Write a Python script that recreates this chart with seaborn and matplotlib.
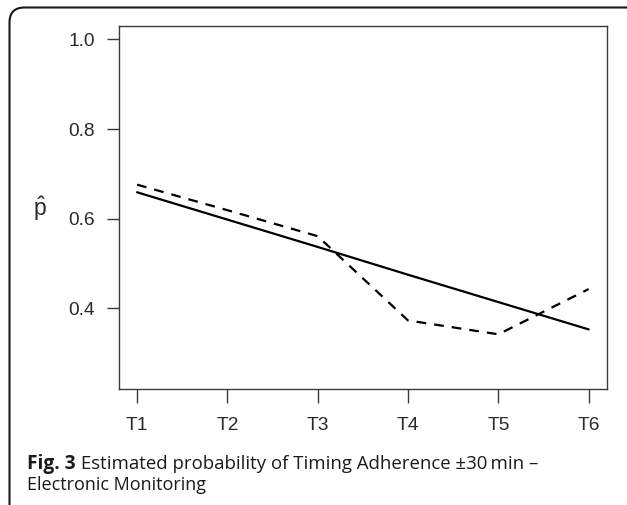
import numpy as np
import pandas as pd
import matplotlib
matplotlib.use("Agg")
import matplotlib.pyplot as plt
from matplotlib.patches import FancyBboxPatch
from matplotlib.transforms import IdentityTransform
import seaborn as sns

# ---- data ----
time_labels = ["T1", "T2", "T3", "T4", "T5", "T6"]
fitted = [0.659, 0.598, 0.537, 0.475, 0.414, 0.353]      # solid line
observed = [0.676, 0.619, 0.561, 0.373, 0.342, 0.443]    # dashed line
y_ticks = [0.4, 0.6, 0.8, 1.0]
caption_bold = "Fig. 3"
caption_rest = " Estimated probability of Timing Adherence \u00b130\u2009min \u2013"
caption_line2 = "Electronic Monitoring"

sns.set_style("white")
plt.rcParams["font.family"] = ["Liberation Sans", "DejaVu Sans"]
plt.rcParams["mathtext.fontset"] = "custom"
plt.rcParams["mathtext.rm"] = "Liberation Sans"

W, H = 627, 505
fig = plt.figure(figsize=(W / 100, H / 100), dpi=100)
fig.patch.set_facecolor("white")

# outer rounded frame (pixel coordinates)
frame = FancyBboxPatch((9.5, -30), 660, 505 - 7.5 + 30,
                       boxstyle="round,pad=0,rounding_size=15",
                       transform=IdentityTransform(), fill=False,
                       edgecolor="#1a1a1a", linewidth=1.5, clip_on=False)
fig.add_artist(frame)

ax = fig.add_axes([119 / W, 1 - 389 / H, (606.7 - 119) / W, (389 - 26) / H])

x = np.arange(1, len(time_labels) + 1)
df = pd.DataFrame({"x": x, "fitted": fitted, "observed": observed})

lw = 1.6
sns.lineplot(data=df, x="x", y="fitted", ax=ax, color="black", linewidth=lw)
sns.lineplot(data=df, x="x", y="observed", ax=ax, color="black", linewidth=lw,
             linestyle=(0, (7.0 / lw, 5.8 / lw)))

ax.set_xlim(0.8, 6.2)
ax.set_ylim(0.22, 1.03)
ax.set_xticks(x)
ax.set_xticklabels(time_labels)
ax.set_yticks(y_ticks)
ax.set_yticklabels([f"{v:.1f}" for v in y_ticks])
ax.set_xlabel("")
ax.set_ylabel("")

for s in ax.spines.values():
    s.set_visible(True)
    s.set_color("#3a3a3a")
    s.set_linewidth(1.0)

ax.tick_params(axis="x", direction="out", length=10, width=1.0, color="#3a3a3a",
               pad=10, labelsize=13.8, labelcolor="#2a2a2a", bottom=True)
ax.tick_params(axis="y", direction="out", length=8.6, width=1.0, color="#3a3a3a",
               pad=9, labelsize=13.8, labelcolor="#2a2a2a", left=True)

# y label p-hat (upright)
fig.text(40 / W, 1 - 209 / H, r"$\hat{\mathrm{p}}$", fontsize=16.5, ha="center",
         va="center", color="#2a2a2a")

# caption
cap_font = ["Open Sans", "DejaVu Sans"]
t1 = fig.text(27 / W, 1 - 469 / H, caption_bold, fontsize=13.8, fontweight="bold",
              family=cap_font, ha="left", va="baseline", color="#1a1a1a")
fig.canvas.draw()
r = fig.canvas.get_renderer()
bb = t1.get_window_extent(renderer=r)
fig.text(bb.x1 / W, 1 - 469 / H, caption_rest, fontsize=13.4,
         family=cap_font, ha="left", va="baseline", color="#1a1a1a")
fig.text(27 / W, 1 - 490 / H, caption_line2, fontsize=13.0,
         family=cap_font, ha="left", va="baseline", color="#1a1a1a")

fig.savefig("out.png", dpi=100)
